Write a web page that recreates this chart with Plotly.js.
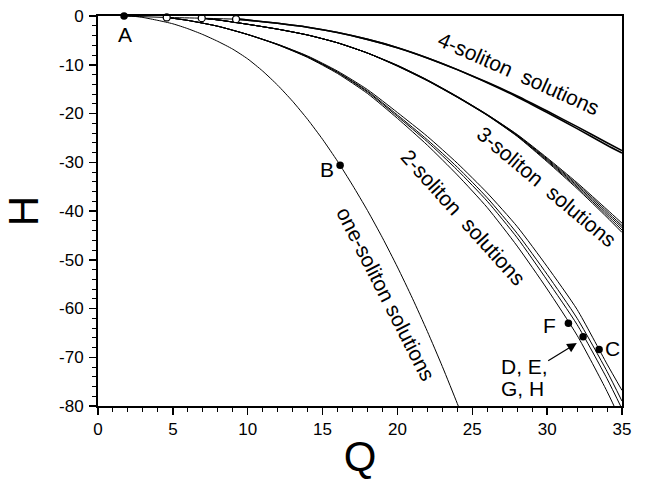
<!DOCTYPE html>
<html><head><meta charset="utf-8">
<script src="https://cdn.plot.ly/plotly-3.0.1.min.js"></script>
<style>html,body{margin:0;padding:0;background:#fff}#chart{width:656px;height:480px}</style>
</head><body><div id="chart"></div>
<script>
// Uniform branch through bifurcation points
const qBase = [1.74, 4.59, 6.93, 9.22];
const hBase = [0, -0.3, -0.45, -0.65];

// One-soliton solutions
const qOne = [1.74, 2.5, 3, 4, 5, 6, 7, 8, 9, 10, 11, 12, 13, 14, 15, 16, 17, 18, 19, 20, 21, 22, 23, 24, 24.5];
const hOne = [0, -0.1, -0.3, -0.9, -1.6, -2.6, -3.8, -5.2, -6.8, -8.8, -11.3, -14.2, -17.5, -21.2, -25.3, -29.8, -34.7, -39.9, -45.5, -51.5, -57.9, -64.7, -71.9, -79.5, -83.4];

// 2-soliton solutions
const qTwo = [4.59, 6, 8, 10, 12, 14, 16, 18, 20, 22, 24, 26, 28, 30, 32, 34, 35];
const hTwoF = [-0.3, -0.9, -2.1, -3.8, -5.9, -8.5, -11.8, -15.9, -21.0, -26.5, -32.6, -39.3, -47.2, -56.0, -65.5, -77.0, -83.5];
const hTwoD = [-0.3, -0.9, -2.1, -3.8, -5.9, -8.4, -11.6, -15.6, -20.6, -25.8, -31.6, -38.0, -45.5, -54.2, -63.3, -74.4, -80.6];
const hTwoE = [-0.3, -0.9, -2.1, -3.8, -5.8, -8.3, -11.5, -15.4, -20.3, -25.4, -31.0, -37.3, -44.6, -53.0, -62.0, -72.9, -79.0];
const hTwoC = [-0.3, -0.9, -2.1, -3.8, -5.8, -8.2, -11.3, -15.1, -19.8, -24.7, -30.2, -36.3, -43.2, -51.4, -60.2, -71.4, -76.8];

// 3-soliton solutions
const qThree = [6.93, 8, 10, 12, 14, 16, 18, 20, 22, 24, 26, 28, 30, 32, 34, 35];
const hThreeA = [-0.45, -0.8, -1.7, -2.7, -3.9, -5.5, -7.6, -10.1, -13.1, -16.5, -20.2, -24.3, -29.1, -34.2, -39.7, -42.5];
const hThreeB = [-0.45, -0.8, -1.7, -2.7, -3.9, -5.5, -7.6, -10.15, -13.15, -16.55, -20.25, -24.4, -29.3, -34.5, -40.1, -43.0];
const hThreeC = [-0.45, -0.8, -1.7, -2.7, -3.9, -5.5, -7.6, -10.2, -13.2, -16.6, -20.3, -24.5, -29.5, -34.8, -40.5, -43.4];
const hThreeD = [-0.45, -0.8, -1.7, -2.7, -3.9, -5.5, -7.6, -10.25, -13.25, -16.65, -20.35, -24.6, -29.7, -35.1, -40.9, -43.9];
const hThreeE = [-0.45, -0.8, -1.7, -2.7, -3.9, -5.5, -7.6, -10.3, -13.3, -16.7, -20.4, -24.7, -29.9, -35.4, -41.3, -44.4];

// 4-soliton solutions
const qFour = [9.22, 10, 12, 14, 16, 18, 20, 22, 24, 26, 28, 30, 32, 34, 35];
const hFourA = [-0.65, -0.85, -1.5, -2.3, -3.4, -4.8, -6.5, -8.6, -11.0, -13.6, -16.4, -19.5, -22.7, -26.0, -27.6];
const hFourB = [-0.65, -0.85, -1.5, -2.3, -3.4, -4.8, -6.5, -8.6, -11.0, -13.7, -16.6, -19.8, -23.1, -26.5, -28.1];

// Marked solutions
const pointNames = ['A', 'B', 'F', 'D', 'C'];
const pointQ = [1.74, 16.17, 31.42, 32.4, 33.47];
const pointH = [0, -30.6, -63.0, -65.8, -68.4];
const openQ = [4.59, 6.93, 9.22];
const openH = [-0.3, -0.45, -0.65];

// Tick labels
const xTicks = [0, 5, 10, 15, 20, 25, 30, 35];
const yTicks = [0, -10, -20, -30, -40, -50, -60, -70, -80];

const FONT = 'Liberation Sans, Arial, Helvetica, sans-serif';

function line(x, y, w) {
  return {x: x, y: y, type: 'scatter', mode: 'lines', hoverinfo: 'skip', showlegend: false,
          line: {color: '#000', width: w || 1, shape: 'spline', smoothing: 0.6}};
}

const traces = [
  line(qBase, hBase, 1),
  line(qOne, hOne, 1),
  line(qTwo, hTwoF, 1), line(qTwo, hTwoD, 1), line(qTwo, hTwoE, 1), line(qTwo, hTwoC, 1),
  line(qThree, hThreeA, 1), line(qThree, hThreeB, 1), line(qThree, hThreeC, 1), line(qThree, hThreeD, 1), line(qThree, hThreeE, 1),
  line(qFour, hFourA, 1.6), line(qFour, hFourB, 1.6),
  {x: openQ, y: openH, type: 'scatter', mode: 'markers', hoverinfo: 'skip', showlegend: false, cliponaxis: false,
   marker: {size: 7, color: '#fff', line: {color: '#000', width: 1.3}}},
  {x: pointQ, y: pointH, text: pointNames, type: 'scatter', mode: 'markers', hoverinfo: 'skip', showlegend: false, cliponaxis: false,
   marker: {size: 7.5, color: '#000'}}
];

function lbl(x, y, text, angle, size, anchor) {
  return {x: x, y: y, xref: 'x', yref: 'y', text: text, showarrow: false, textangle: angle || 0,
          xanchor: anchor || 'center', yanchor: 'middle',
          font: {family: FONT, size: size || 21, color: '#000'}};
}

const annotations = [
  lbl(28.1, -11.7, '4-soliton\u00a0 solutions', 24, 21),
  lbl(29.97, -34.9, '3-soliton\u00a0 solutions', 40, 21),
  lbl(24.4, -41.4, '2-soliton\u00a0 solutions', 48, 21),
  lbl(19.2, -57.0, 'one-soliton solutions', 63, 21),
  lbl(1.78, -3.7, 'A', 0, 21),
  lbl(15.28, -31.4, 'B', 0, 21),
  lbl(30.13, -63.5, 'F', 0, 21),
  lbl(34.37, -68.2, 'C', 0, 21),
  lbl(26.8, -71.9, 'D, E,', 0, 21, 'left'),
  lbl(26.8, -76.5, 'G, H', 0, 21, 'left'),
  {x: 31.98, y: -67.1, ax: 29.97, ay: -70.9, xref: 'x', yref: 'y', axref: 'x', ayref: 'y',
   text: '', showarrow: true, arrowhead: 2, arrowsize: 1.6, arrowwidth: 1.2, arrowcolor: '#000'}
];

const axisCommon = {
  showgrid: false, zeroline: false, showline: true, linecolor: '#000', linewidth: 2, mirror: true,
  ticks: 'outside', ticklen: 7, tickwidth: 1.5, tickcolor: '#000',
  tickfont: {family: FONT, size: 17, color: '#000'}
};

const layout = {
  width: 656, height: 480,
  margin: {l: 98, r: 34, t: 16, b: 74, pad: 0},
  paper_bgcolor: '#fff', plot_bgcolor: '#fff',
  showlegend: false,
  xaxis: Object.assign({}, axisCommon, {
    range: [0, 35], tickmode: 'array', tickvals: xTicks, ticktext: xTicks.map(String),
    minor: {dtick: 1, tick0: 0, ticks: 'outside', ticklen: 4, tickwidth: 1, tickcolor: '#000'},
    title: {text: 'Q', font: {family: FONT, size: 42, color: '#000'}, standoff: 4}
  }),
  yaxis: Object.assign({}, axisCommon, {
    range: [-80, 0], tickmode: 'array', tickvals: yTicks, ticktext: yTicks.map(String),
    ticklabelstandoff: 2,
    minor: {dtick: 2, tick0: 0, ticks: 'outside', ticklen: 4, tickwidth: 1, tickcolor: '#000'},
    title: {text: 'H', font: {family: FONT, size: 42, color: '#000'}, standoff: 22}
  }),
  annotations: annotations
};

Plotly.newPlot('chart', traces, layout, {staticPlot: true, displayModeBar: false});
</script>
</body></html>
